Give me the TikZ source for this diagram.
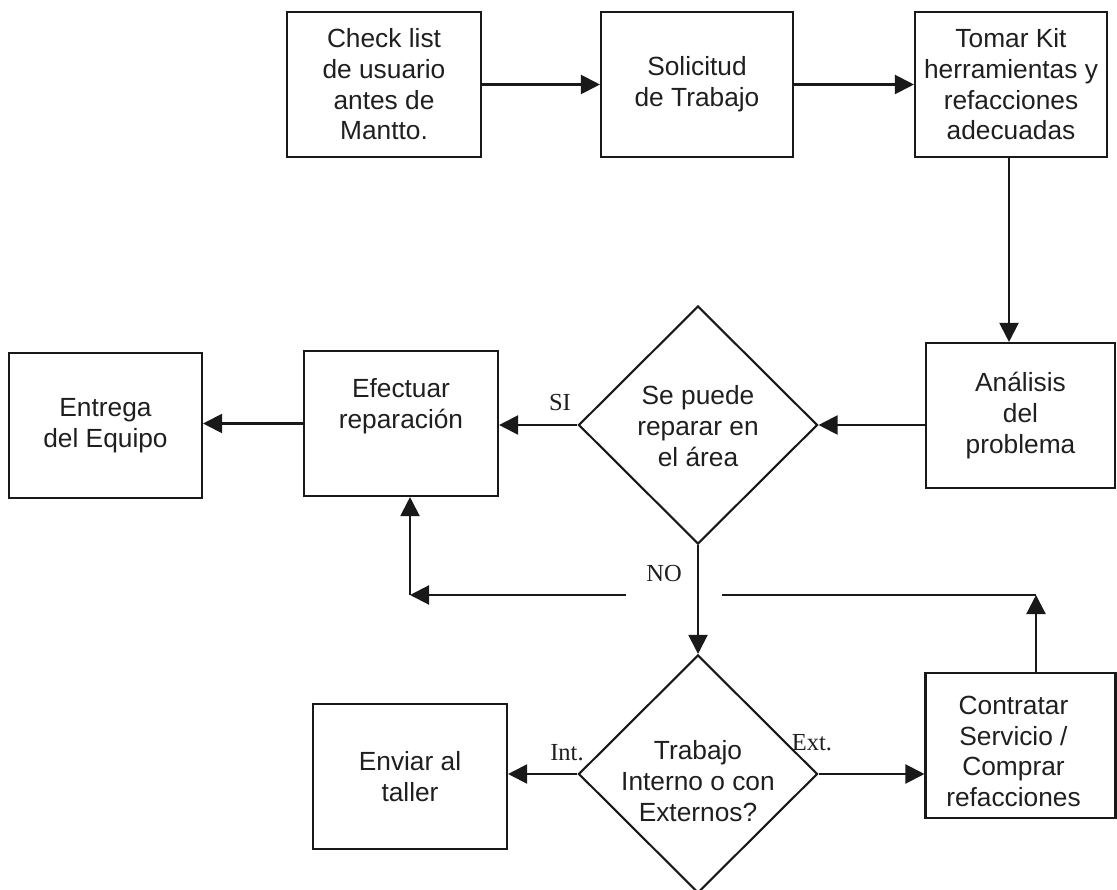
\documentclass[tikz,border=0pt]{standalone}
\usepackage{fontspec}
\setmainfont{Liberation Sans}
\newfontfamily\tagfont{Liberation Serif}
\usetikzlibrary{arrows.meta,shapes.geometric,calc}

\begin{document}
\begin{tikzpicture}[x=1pt,y=-1pt,
  txt/.style={align=center, inner sep=0pt, text=black!88,
    font=\fontsize{26.3}{30.7}\selectfont},
  box/.style={draw=black!90, line width=2.1pt, rectangle, minimum height=145pt,
    inner sep=0pt, txt},
  decision/.style={draw=black!90, line width=2.1pt, diamond, inner sep=0pt,
    minimum width=239pt, minimum height=238pt},
  link/.style={draw=black!90, line width=2.1pt},
  arr/.style={link, -{Triangle[length=19pt,width=19pt]}},
  tag/.style={inner sep=0pt, text=black!88, font=\tagfont\fontsize{24.5}{28}\selectfont}
]
\useasboundingbox (0,0) rectangle (1117,890);
\clip (0,0) rectangle (1117,890);

% top row
\node[box, minimum width=194pt] (check) at (384,84.5)
  {Check list\\de usuario\\antes de\\Mantto.};
\node[box, minimum width=192pt] (solic) at (697,84.5)
  {Solicitud\\de Trabajo};
\node[box, minimum width=192pt] (kit) at (1011,84.5)
  {Tomar Kit\\herramientas y\\refacciones\\adecuadas};

% middle row
\node[box, minimum width=189pt] (anal) at (1020.5,415.5)
  {Análisis\\del\\problema};
\node[decision] (d1) at (698,425) {};
\node[txt] (d1t) at (698,426) {Se puede\\reparar en\\el área};
\node[box, minimum width=194pt,
  label={[txt, yshift=17.5pt]center:Efectuar\\reparación}] (efect) at (401,423.5) {};
\node[box, minimum width=193pt] (entrega) at (105.5,425.5)
  {Entrega\\del Equipo};

% bottom row
\node[decision] (d2) at (698,774) {};
\node[txt] (d2t) at (698,781) {Trabajo\\Interno o con\\Externos?};
\node[box, minimum width=194pt] (enviar) at (410,776.5)
  {Enviar al\\taller};
\node[box, minimum width=190pt,
  label={[txt, yshift=-6pt, xshift=-7pt]center:Contratar\\Servicio /\\Comprar\\refacciones}]
  (contr) at (1020.5,745.5) {};

% branch labels
\node[tag] (si)  at (560,403) {SI};
\node[tag] (no)  at (664,574) {NO};
\node[tag] (int) at (567,753) {Int.};
\node[tag] (ext) at (812,743) {Ext.};

% return path from the external branch
\coordinate (jr) at (1036,595);
\coordinate (gapR) at (722,595);
\coordinate (gapL) at (626,595);
\coordinate (jl) at (410,595);

% connectors
\draw[arr] (check.east) -- (solic.west);
\draw[arr] (solic.east) -- (kit.west);
\draw[arr] (kit.south -| 1009,0) -- (anal.north -| 1009,0);
\draw[arr] (d1.east -| anal.west) -- (d1.east);
\draw[arr] (d1.west) -- (d1.west -| efect.east);
\draw[arr] (efect.west) -- (efect.west -| entrega.east);
\draw[arr] (d1.south) -- (d2.north);
\draw[arr] (d2.west) -- (d2.west -| enviar.east);
\draw[arr] (d2.east) -- (d2.east -| contr.west);
\draw[arr] (contr.north -| jr) -- (jr);
\draw[link] (jr) -- (gapR);
\draw[arr] (gapL) -- (jl);
\draw[arr] (jl) -- (jl |- efect.south);
\end{tikzpicture}
\end{document}
